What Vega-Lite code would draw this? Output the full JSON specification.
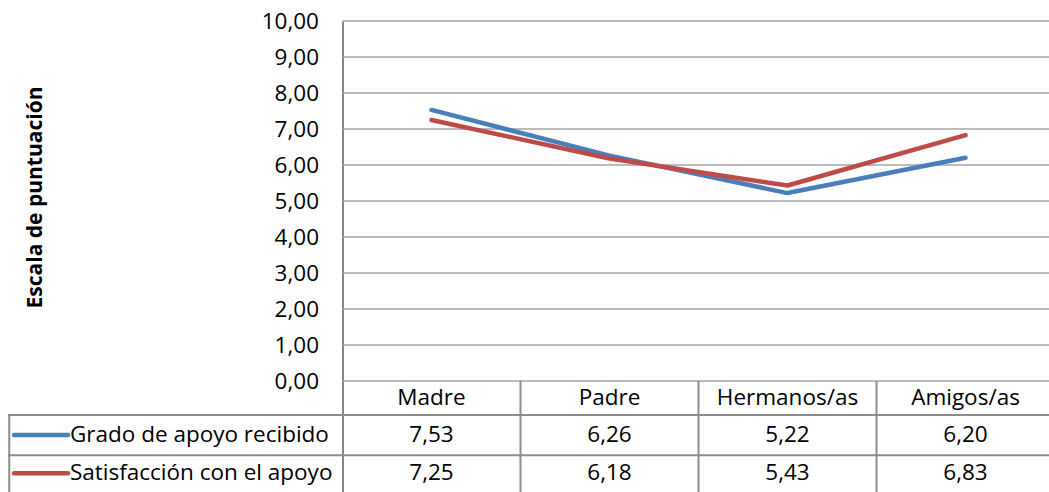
{
  "$schema": "https://vega.github.io/schema/vega-lite/v6.json",
  "width": 1041,
  "height": 471,
  "autosize": {"type": "none"},
  "padding": {"left": 8, "top": 21, "right": 0, "bottom": 0},
  "background": "white",
  "config": {
    "view": {"stroke": null},
    "locale": {"number": {"decimal": ",", "thousands": ".", "grouping": [3], "currency": ["", " €"]}},
    "text": {"font": "Open Sans", "fontSize": 22.5, "color": "#000000"}
  },
  "datasets": {
    "apoyo": [
      {"categoria": "Madre", "orden": 1, "serie": "Grado de apoyo recibido", "valor": 7.53},
      {"categoria": "Padre", "orden": 2, "serie": "Grado de apoyo recibido", "valor": 6.26},
      {"categoria": "Hermanos/as", "orden": 3, "serie": "Grado de apoyo recibido", "valor": 5.22},
      {"categoria": "Amigos/as", "orden": 4, "serie": "Grado de apoyo recibido", "valor": 6.20},
      {"categoria": "Madre", "orden": 1, "serie": "Satisfacción con el apoyo", "valor": 7.25},
      {"categoria": "Padre", "orden": 2, "serie": "Satisfacción con el apoyo", "valor": 6.18},
      {"categoria": "Hermanos/as", "orden": 3, "serie": "Satisfacción con el apoyo", "valor": 5.43},
      {"categoria": "Amigos/as", "orden": 4, "serie": "Satisfacción con el apoyo", "valor": 6.83}
    ],
    "rejilla": [
      {"v": 0}, {"v": 1}, {"v": 2}, {"v": 3}, {"v": 4}, {"v": 5},
      {"v": 6}, {"v": 7}, {"v": 8}, {"v": 9}, {"v": 10}
    ],
    "vacio": [{}]
  },
  "layer": [
    {
      "data": {"name": "rejilla"},
      "mark": {"type": "rule", "color": "#a5a5a5", "strokeWidth": 1.5},
      "encoding": {
        "y": {
          "field": "v", "type": "quantitative",
          "scale": {"domain": [-3.0833, 10], "nice": false, "zero": false},
          "axis": {
            "values": [0, 1, 2, 3, 4, 5, 6, 7, 8, 9, 10],
            "format": ".2f",
            "offset": -334.5,
            "ticks": false,
            "grid": false,
            "domainColor": "#868686",
            "domainWidth": 2,
            "labelFont": "Open Sans",
            "labelFontSize": 22.5,
            "labelColor": "#000000",
            "labelPadding": 24,
            "title": "Escala de puntuación",
            "titleFont": "Open Sans",
            "titleFontSize": 21,
            "titleFontWeight": "bold",
            "titleColor": "#000000",
            "titleX": -307,
            "titleY": 176,
            "titleBaseline": "middle"
          }
        },
        "x": {"datum": 0.5, "type": "quantitative", "scale": {"domain": [-1.379, 4.469], "nice": false, "zero": false}, "axis": null},
        "x2": {"datum": 4.469}
      }
    },
    {
      "data": {"name": "vacio"},
      "mark": {"type": "rule", "color": "#8c8c8c", "strokeWidth": 2},
      "encoding": {"x": {"datum": -1.379, "type": "quantitative"}, "x2": {"datum": 4.469}, "y": {"datum": -0.944, "type": "quantitative"}}
    },
    {
      "data": {"name": "vacio"},
      "mark": {"type": "rule", "color": "#8c8c8c", "strokeWidth": 2},
      "encoding": {"x": {"datum": -1.379, "type": "quantitative"}, "x2": {"datum": 4.469}, "y": {"datum": -2.06, "type": "quantitative"}}
    },
    {
      "data": {"name": "vacio"},
      "mark": {"type": "rule", "color": "#8c8c8c", "strokeWidth": 2},
      "encoding": {"x": {"datum": -1.372, "type": "quantitative"}, "y": {"datum": -0.944, "type": "quantitative"}, "y2": {"datum": -3.0833}}
    },
    {
      "data": {"name": "vacio"},
      "mark": {"type": "rule", "color": "#8c8c8c", "strokeWidth": 2},
      "encoding": {"x": {"datum": 1.5, "type": "quantitative"}, "y": {"datum": 0, "type": "quantitative"}, "y2": {"datum": -3.0833}}
    },
    {
      "data": {"name": "vacio"},
      "mark": {"type": "rule", "color": "#8c8c8c", "strokeWidth": 2},
      "encoding": {"x": {"datum": 2.5, "type": "quantitative"}, "y": {"datum": 0, "type": "quantitative"}, "y2": {"datum": -3.0833}}
    },
    {
      "data": {"name": "vacio"},
      "mark": {"type": "rule", "color": "#8c8c8c", "strokeWidth": 2},
      "encoding": {"x": {"datum": 3.5, "type": "quantitative"}, "y": {"datum": 0, "type": "quantitative"}, "y2": {"datum": -3.0833}}
    },
    {
      "data": {"name": "apoyo"},
      "mark": {"type": "line", "strokeWidth": 4.5, "strokeCap": "round", "strokeJoin": "round"},
      "encoding": {
        "x": {"field": "orden", "type": "quantitative"},
        "y": {"field": "valor", "type": "quantitative"},
        "color": {
          "field": "serie", "type": "nominal",
          "scale": {"domain": ["Grado de apoyo recibido", "Satisfacción con el apoyo"], "range": ["#4a7ebb", "#be4b48"]},
          "legend": null
        }
      }
    },
    {
      "data": {"name": "apoyo"},
      "transform": [{"filter": "datum.orden === 1 && datum.serie === 'Grado de apoyo recibido'"}],
      "mark": {"type": "rule", "strokeWidth": 4.5, "strokeCap": "round"},
      "encoding": {
        "x": {"datum": -1.345, "type": "quantitative"},
        "x2": {"datum": -1.042},
        "y": {"datum": -1.5, "type": "quantitative"},
        "color": {"field": "serie", "type": "nominal"}
      }
    },
    {
      "data": {"name": "apoyo"},
      "transform": [{"filter": "datum.orden === 1 && datum.serie === 'Satisfacción con el apoyo'"}],
      "mark": {"type": "rule", "strokeWidth": 4.5, "strokeCap": "round"},
      "encoding": {
        "x": {"datum": -1.345, "type": "quantitative"},
        "x2": {"datum": -1.042},
        "y": {"datum": -2.56, "type": "quantitative"},
        "color": {"field": "serie", "type": "nominal"}
      }
    },
    {
      "data": {"name": "apoyo"},
      "transform": [{"filter": "datum.serie === 'Grado de apoyo recibido'"}],
      "mark": {"type": "text", "baseline": "middle", "align": "center"},
      "encoding": {
        "x": {"field": "orden", "type": "quantitative"},
        "y": {"datum": -0.47, "type": "quantitative"},
        "text": {"field": "categoria", "type": "nominal"}
      }
    },
    {
      "data": {"name": "apoyo"},
      "transform": [{"filter": "datum.serie === 'Grado de apoyo recibido'"}],
      "mark": {"type": "text", "baseline": "middle", "align": "center"},
      "encoding": {
        "x": {"field": "orden", "type": "quantitative"},
        "y": {"datum": -1.5, "type": "quantitative"},
        "text": {"field": "valor", "type": "quantitative", "format": ".2f"}
      }
    },
    {
      "data": {"name": "apoyo"},
      "transform": [{"filter": "datum.serie === 'Satisfacción con el apoyo'"}],
      "mark": {"type": "text", "baseline": "middle", "align": "center"},
      "encoding": {
        "x": {"field": "orden", "type": "quantitative"},
        "y": {"datum": -2.56, "type": "quantitative"},
        "text": {"field": "valor", "type": "quantitative", "format": ".2f"}
      }
    },
    {
      "data": {"name": "apoyo"},
      "transform": [{"filter": "datum.orden === 1 && datum.serie === 'Grado de apoyo recibido'"}],
      "mark": {"type": "text", "baseline": "middle", "align": "left"},
      "encoding": {
        "x": {"datum": -1.031, "type": "quantitative"},
        "y": {"datum": -1.5, "type": "quantitative"},
        "text": {"field": "serie", "type": "nominal"}
      }
    },
    {
      "data": {"name": "apoyo"},
      "transform": [{"filter": "datum.orden === 1 && datum.serie === 'Satisfacción con el apoyo'"}],
      "mark": {"type": "text", "baseline": "middle", "align": "left"},
      "encoding": {
        "x": {"datum": -1.031, "type": "quantitative"},
        "y": {"datum": -2.56, "type": "quantitative"},
        "text": {"field": "serie", "type": "nominal"}
      }
    }
  ]
}
